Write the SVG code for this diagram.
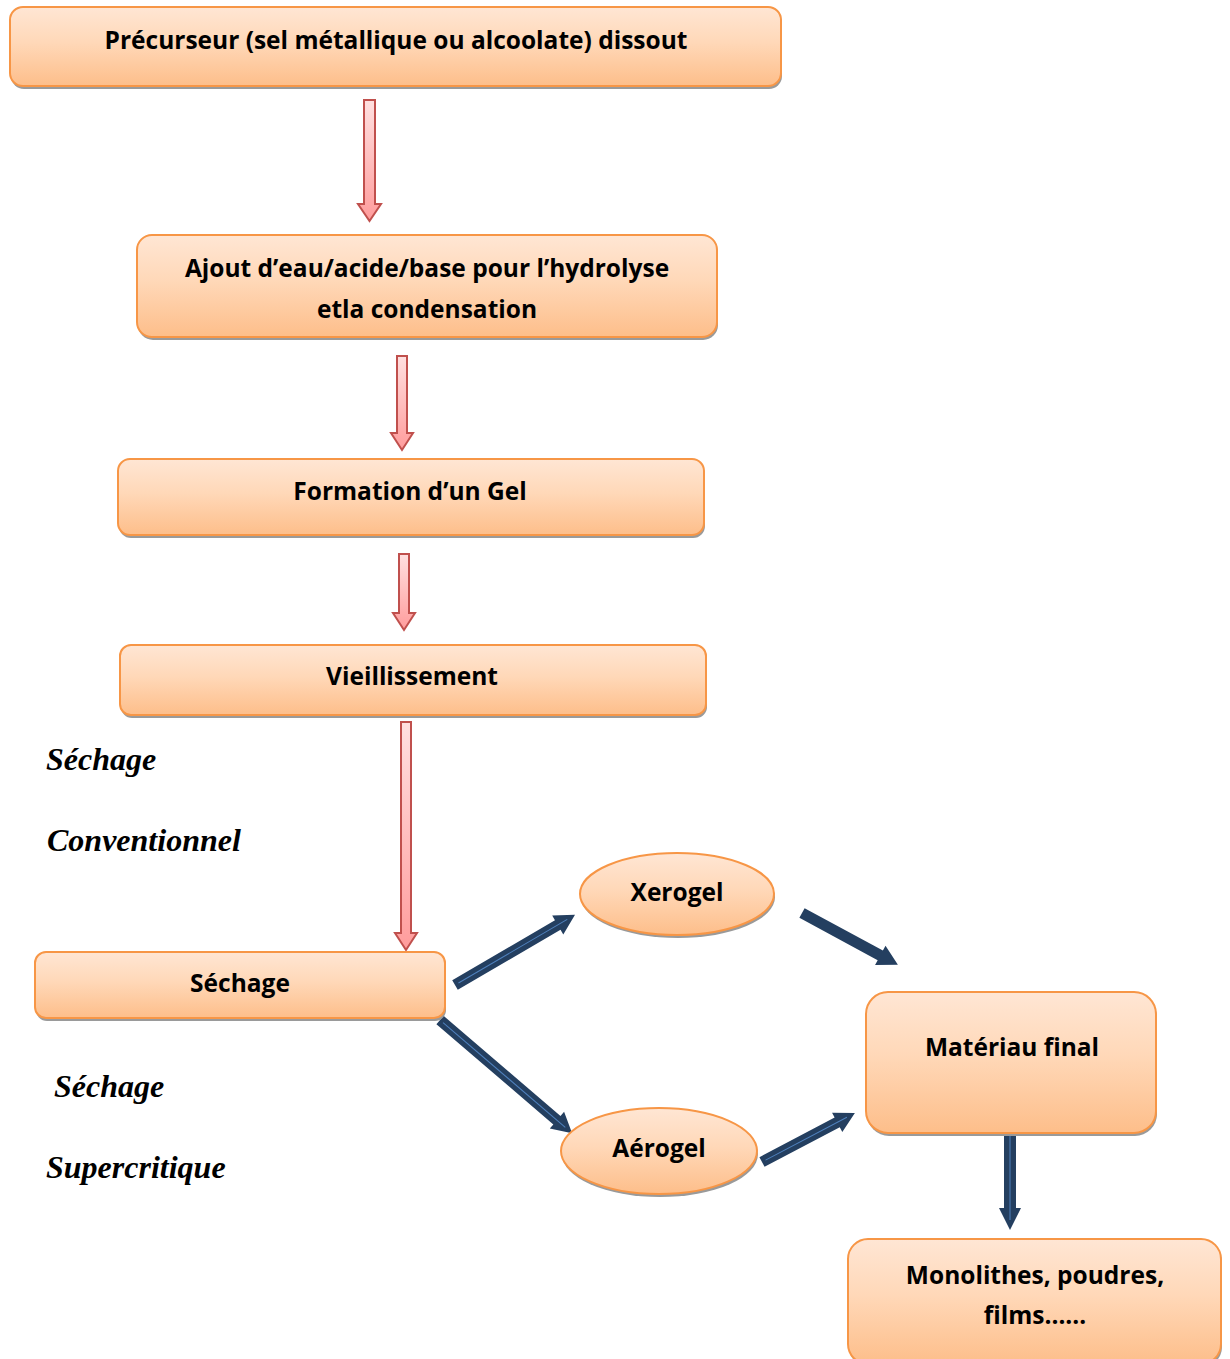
<svg xmlns="http://www.w3.org/2000/svg" width="1230" height="1359" viewBox="0 0 1230 1359">
<defs>
<linearGradient id="og" x1="0" y1="0" x2="0" y2="1">
<stop offset="0" stop-color="#FFE6D4"/>
<stop offset="0.45" stop-color="#FFD8B8"/>
<stop offset="1" stop-color="#FDBE8A"/>
</linearGradient>
<linearGradient id="rg" x1="0" y1="0" x2="0" y2="1">
<stop offset="0" stop-color="#FFE0E0"/>
<stop offset="1" stop-color="#FF9C9C"/>
</linearGradient>
</defs>
<style>
.box{fill:url(#og);stroke:#F79646;stroke-width:2}
.sh{fill:#9a9a9a}
.t{font-family:"Open Sans","Noto Sans","Liberation Sans",sans-serif;font-weight:bold;font-size:24.5px;fill:#000;text-anchor:middle}
.it{font-family:"Liberation Serif","Times New Roman",serif;font-weight:bold;font-style:italic;font-size:32px;fill:#000}
.ra{fill:url(#rg);stroke:#C0504D;stroke-width:2}
.ba{fill:#243F60}
.bl{stroke:#4F81BD;stroke-width:1;fill:none}
</style>
<rect width="1230" height="1359" fill="#fff"/>

<g id="connectors">
<path class="ra" d="M364,100 H375 V204 H381 L369.5,221 L358,204 H364 Z"/>
<path class="ra" d="M397,356 H407 V433 H413 L402,450 L391,433 H397 Z"/>
<path class="ra" d="M399,554 H409 V613 H415 L404,630 L393,613 H399 Z"/>
<path class="ra" d="M401,722 H411 V933 H417 L406,950 L395,933 H401 Z"/>

<g transform="translate(455,985) rotate(-30.3)">
<path class="ba" d="M0,-5.5 H119 V-11 L139,0 L119,11 V5.5 H0 Z"/>
<path class="bl" d="M4,0 H130"/>
</g>
<g transform="translate(802,913) rotate(28.4)">
<path class="ba" d="M0,-5.5 H89 V-11 L109,0 L89,11 V5.5 H0 Z"/>
</g>
<g transform="translate(440,1020) rotate(40.6)">
<path class="ba" d="M0,-5.5 H154 V-11 L174,0 L154,11 V5.5 H0 Z"/>
<path class="bl" d="M4,0 H165"/>
</g>
<g transform="translate(762,1162) rotate(-27.8)">
<path class="ba" d="M0,-5.5 H85 V-11 L105,0 L85,11 V5.5 H0 Z"/>
<path class="bl" d="M4,0 H96"/>
</g>
<g transform="translate(1010,1130) rotate(90)">
<path class="ba" d="M0,-6 H78 V-11 L100,0 L78,11 V6 H0 Z"/>
<path class="bl" d="M4,0 H90"/>
</g>
</g>

<g id="n1">
<rect class="sh" x="11" y="10" width="771" height="79" rx="13"/>
<rect class="box" x="10" y="7" width="771" height="79" rx="13"/>
<text class="t" x="396" y="49">Précurseur (sel métallique ou alcoolate) dissout</text>
</g>
<g id="n2">
<rect class="sh" x="138" y="238" width="580" height="102" rx="15"/>
<rect class="box" x="137" y="235" width="580" height="102" rx="15"/>
<text class="t" x="427" y="277">Ajout d’eau/acide/base pour l’hydrolyse</text>
<text class="t" x="427" y="318">etla condensation</text>
</g>
<g id="n3">
<rect class="sh" x="119" y="462" width="586" height="76" rx="12"/>
<rect class="box" x="118" y="459" width="586" height="76" rx="12"/>
<text class="t" x="410" y="500">Formation d’un Gel</text>
</g>
<g id="n4">
<rect class="sh" x="121" y="648" width="586" height="70" rx="11"/>
<rect class="box" x="120" y="645" width="586" height="70" rx="11"/>
<text class="t" x="412" y="685">Vieillissement</text>
</g>
<g id="n5">
<rect class="sh" x="36" y="955" width="410" height="66" rx="11"/>
<rect class="box" x="35" y="952" width="410" height="66" rx="11"/>
<text class="t" x="240" y="992">Séchage</text>
</g>
<g id="n6">
<ellipse class="sh" cx="678" cy="897" rx="97" ry="41"/>
<ellipse class="box" cx="677" cy="894" rx="97" ry="41"/>
<text class="t" x="677" y="901">Xerogel</text>
</g>
<g id="n7">
<ellipse class="sh" cx="660" cy="1154" rx="98" ry="43"/>
<ellipse class="box" cx="659" cy="1151" rx="98" ry="43"/>
<text class="t" x="659" y="1157">Aérogel</text>
</g>
<g id="n8">
<rect class="sh" x="867" y="995" width="290" height="141" rx="22"/>
<rect class="box" x="866" y="992" width="290" height="141" rx="22"/>
<text class="t" x="1012" y="1056">Matériau final</text>
</g>
<g id="n9">
<rect class="sh" x="849" y="1242" width="373" height="125" rx="20"/>
<rect class="box" x="848" y="1239" width="373" height="125" rx="20"/>
<text class="t" x="1035" y="1284">Monolithes, poudres,</text>
<text class="t" x="1035" y="1324">films……</text>
</g>

<g id="labels">
<text class="it" x="46" y="770">Séchage</text>
<text class="it" x="47" y="851">Conventionnel</text>
<text class="it" x="54" y="1097">Séchage</text>
<text class="it" x="46" y="1178">Supercritique</text>
</g>
</svg>
